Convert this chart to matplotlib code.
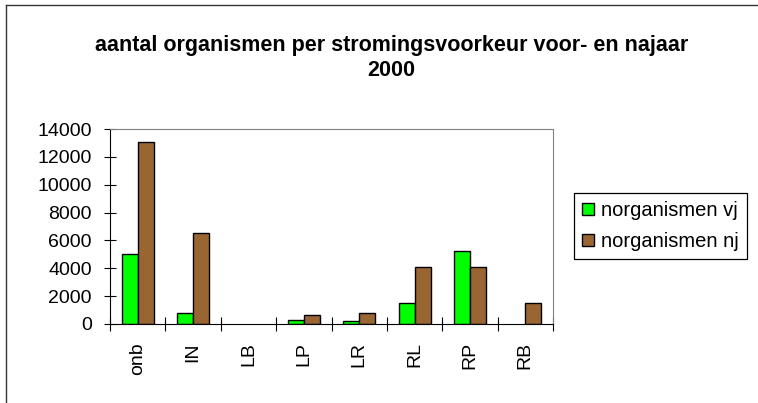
import numpy as np
import matplotlib
matplotlib.use("Agg")
import matplotlib.pyplot as plt
from matplotlib.lines import Line2D

plt.rcParams["font.family"] = ["Liberation Sans", "DejaVu Sans"]

# values
categories = ["onb", "IN", "LB", "LP", "LR", "RL", "RP", "RB"]
organismen_vj = [5000, 800, 0, 300, 200, 1500, 5250, 0]
organismen_nj = [13100, 6500, 0, 680, 820, 4100, 4100, 1500]
series_labels = ["norganismen vj", "norganismen nj"]
y_ticks = [0, 2000, 4000, 6000, 8000, 10000, 12000, 14000]

title = "aantal organismen per stromingsvoorkeur voor- en najaar\n2000"

fig = plt.figure(figsize=(7.58, 4.03), dpi=100)
ax = fig.add_axes([110 / 758, 1 - 324 / 403, 443 / 758, 195 / 403])

x = np.arange(len(categories))
width = 0.29
for offset, values, color, label in [(-width / 2, organismen_vj, "#00ff00", series_labels[0]),
                                     (width / 2, organismen_nj, "#996633", series_labels[1])]:
    bars = ax.bar(x + offset, values, width, color=color, edgecolor="black",
                  linewidth=1.0, label=label)
    # empty bars leave no mark in the original
    for bar, v in zip(bars, values):
        if v == 0:
            bar.set_visible(False)

ax.set_xlim(-0.5, len(categories) - 0.5)
ax.set_ylim(0, 14000)
ax.set_yticks(y_ticks)
ax.set_yticklabels([str(v) for v in y_ticks], fontsize=14)
ax.tick_params(axis="y", direction="inout", length=9, width=0.8, pad=8.5)

ax.set_xticks(x)
ax.set_xticklabels(categories, rotation=90, fontsize=14)
ax.tick_params(axis="x", which="major", length=0, pad=13)
ax.set_xticks(np.arange(len(categories) + 1) - 0.5, minor=True)
ax.tick_params(axis="x", which="minor", direction="inout", length=10, width=0.8)

for side in ["top", "right"]:
    ax.spines[side].set_color("#808080")
for side in ["left", "bottom"]:
    ax.spines[side].set_color("black")

fig.text(0.516, 1 - 58 / 403, title, ha="center", va="center",
         fontsize=15.5, fontweight="bold", linespacing=1.3)

leg = ax.legend(loc="upper left", bbox_to_anchor=(574 / 758, 1 - 193 / 403),
                bbox_transform=fig.transFigure, fontsize=14.5, fancybox=False,
                edgecolor="black", framealpha=1, borderpad=0.4,
                labelspacing=0.6, handlelength=0.6, handleheight=0.5,
                handletextpad=0.35, borderaxespad=0)
leg.get_frame().set_linewidth(0.9)

# partial frame round the picture
fig.add_artist(Line2D([5.5 / 758, 1], [1 - 4.5 / 403] * 2, color="#333333", lw=1))
fig.add_artist(Line2D([5.5 / 758] * 2, [0, 1 - 4.5 / 403], color="#333333", lw=1))

fig.savefig("out.png", dpi=100)
